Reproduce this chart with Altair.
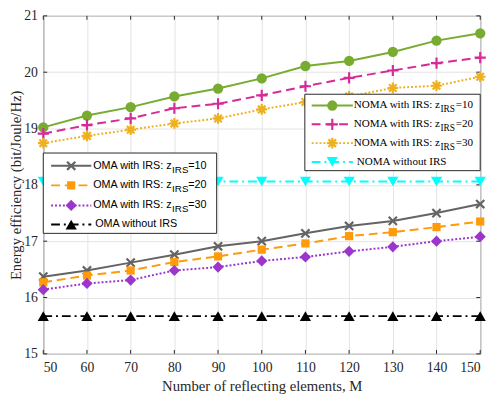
import altair as alt
import pandas as pd

# ---------------- data ----------------
M = [50, 60, 70, 80, 90, 100, 110, 120, 130, 140, 150]
noma_irs10 = [19.02, 19.23, 19.38, 19.57, 19.71, 19.89, 20.11, 20.20, 20.36, 20.56, 20.69]
noma_irs20 = [18.91, 19.06, 19.18, 19.36, 19.44, 19.59, 19.75, 19.90, 20.03, 20.16, 20.26]
noma_irs30 = [18.74, 18.87, 18.98, 19.09, 19.18, 19.34, 19.47, 19.57, 19.72, 19.76, 19.92]
noma_noirs = [18.06, 18.06, 18.06, 18.06, 18.06, 18.06, 18.06, 18.06, 18.06, 18.06, 18.06]
oma_irs10 = [16.37, 16.48, 16.62, 16.76, 16.91, 17.00, 17.14, 17.27, 17.36, 17.50, 17.66]
oma_irs20 = [16.27, 16.39, 16.48, 16.63, 16.73, 16.85, 16.96, 17.09, 17.16, 17.25, 17.35]
oma_irs30 = [16.14, 16.25, 16.31, 16.48, 16.54, 16.65, 16.72, 16.82, 16.90, 17.00, 17.08]
oma_noirs = [15.67, 15.67, 15.67, 15.67, 15.67, 15.67, 15.67, 15.67, 15.67, 15.67, 15.67]

x_ticks = [50, 60, 70, 80, 90, 100, 110, 120, 130, 140, 150]
y_ticks = [15, 16, 17, 18, 19, 20, 21]

# ---------------- styles ----------------
W, H = 446, 345
AX = "#262626"
SERIF = "Liberation Serif"
SANS = "Liberation Sans"

ASTER = "M-1,0L1,0M0,-1L0,1M-0.7,-0.7L0.7,0.7M-0.7,0.7L0.7,-0.7"
PLUS = "M-1,0L1,0M0,-1L0,1"
XMARK = "M-0.8,-0.8L0.8,0.8M-0.8,0.8L0.8,-0.8"

series = [
    dict(key="n10", vals=noma_irs10, color="#77AC30", dash=None, shape="circle", size=110, filled=True),
    dict(key="n20", vals=noma_irs20, color="#D62A99", dash=[9, 5], shape=PLUS, size=130, filled=False),
    dict(key="n30", vals=noma_irs30, color="#EDB120", dash=[2, 2], shape=ASTER, size=120, filled=False),
    dict(key="n0", vals=noma_noirs, color="#00FFFF", dash=[9, 4, 2, 4], shape="triangle-down", size=130, filled=True),
    dict(key="o10", vals=oma_irs10, color="#646464", dash=None, shape=XMARK, size=110, filled=False),
    dict(key="o20", vals=oma_irs20, color="#FF9A0A", dash=[9, 5], shape="square", size=70, filled=True),
    dict(key="o30", vals=oma_irs30, color="#9B35CC", dash=[2, 2], shape="diamond", size=130, filled=True),
    dict(key="o0", vals=oma_noirs, color="#000000", dash=[9, 4, 2, 4], shape="triangle-up", size=130, filled=True),
]

xscale = alt.Scale(domain=[50, 150], nice=False, zero=False)
yscale = alt.Scale(domain=[15, 21], nice=False, zero=False)
xaxis = alt.Axis(values=x_ticks, title="Number of reflecting elements, M", labelPadding=7, titlePadding=4)
yaxis = alt.Axis(values=y_ticks, title="Energy efficiency (bit/Joule/Hz)", labelPadding=6, titlePadding=0)


def X(field):
    return alt.X(field, type="quantitative", scale=xscale, axis=xaxis)


def Y(field):
    return alt.Y(field, type="quantitative", scale=yscale, axis=yaxis)


def mark_kwargs(s):
    kw = dict(color=s["color"], shape=s["shape"], size=s["size"], opacity=1)
    if s["filled"]:
        kw["filled"] = True
        kw["strokeWidth"] = 0
    else:
        kw["filled"] = False
        kw["strokeWidth"] = 2.2
    return kw


def line_kwargs(s):
    kw = dict(color=s["color"], strokeWidth=2)
    if s["dash"]:
        kw["strokeDash"] = s["dash"]
    return kw


layers = []

# inward ticks (MATLAB style box)
xt = pd.DataFrame({"t": x_ticks})
yt = pd.DataFrame({"t": y_ticks})
layers.append(alt.Chart(xt).mark_rule(color=AX, strokeWidth=1).encode(x=X("t"), y=alt.value(H), y2=alt.value(H - 4)))
layers.append(alt.Chart(xt).mark_rule(color=AX, strokeWidth=1).encode(x=X("t"), y=alt.value(0), y2=alt.value(4)))
layers.append(alt.Chart(yt).mark_rule(color=AX, strokeWidth=1).encode(y=Y("t"), x=alt.value(0), x2=alt.value(4)))
layers.append(alt.Chart(yt).mark_rule(color=AX, strokeWidth=1).encode(y=Y("t"), x=alt.value(W), x2=alt.value(W - 4)))

# series
for s in series:
    df = pd.DataFrame({"M": M, "EE": s["vals"]})
    layers.append(alt.Chart(df).mark_line(**line_kwargs(s)).encode(x=X("M"), y=Y("EE")))
    layers.append(alt.Chart(df).mark_point(**mark_kwargs(s)).encode(x=X("M"), y=Y("EE")))


# ---------------- custom legends ----------------
def one():
    return alt.Data(values=[{"k": 0}])


def txt(text, x, y, align, font, size):
    return alt.Chart(one()).mark_text(text=text, align=align, baseline="middle", font=font,
                                      fontSize=size, color="#000000").encode(x=alt.value(x), y=alt.value(y))


def add_legend(box, rows, line_x, text_x, z_end, tail_x, font, fsize, subsize):
    x1, x2, y1, y2 = box
    layers.append(alt.Chart(one()).mark_rect(fill="white", stroke=AX, strokeWidth=1).encode(
        x=alt.value(x1), x2=alt.value(x2), y=alt.value(y1), y2=alt.value(y2)))
    for s, y, main, sub, tail in rows:
        layers.append(alt.Chart(one()).mark_rule(**line_kwargs(s)).encode(
            x=alt.value(line_x[0]), x2=alt.value(line_x[1]), y=alt.value(y)))
        layers.append(alt.Chart(one()).mark_point(**mark_kwargs(s)).encode(
            x=alt.value((line_x[0] + line_x[1]) / 2), y=alt.value(y)))
        if sub:
            layers.append(txt(main, z_end, y, "right", font, fsize))
            layers.append(txt(sub, z_end + 0.5, y + 4, "left", font, subsize))
            layers.append(txt(tail, tail_x, y, "left", font, fsize))
        else:
            layers.append(txt(main, text_x, y, "left", font, fsize))


noma_rows = [
    (series[0], 91.5, "NOMA with IRS: z", "IRS", "=10"),
    (series[1], 110.7, "NOMA with IRS: z", "IRS", "=20"),
    (series[2], 129.9, "NOMA with IRS: z", "IRS", "=30"),
    (series[3], 149.1, "NOMA without IRS", None, None),
]
oma_rows = [
    (series[4], 153, "OMA with IRS: z", "IRS", "=10"),
    (series[5], 173, "OMA with IRS: z", "IRS", "=20"),
    (series[6], 193.5, "OMA with IRS: z", "IRS", "=30"),
    (series[7], 213, "OMA without IRS", None, None),
]

add_legend((267, W, 80, 158), noma_rows, (274, 316), 320, 405, 421, SERIF, 11.3, 9.5)
add_legend((0, 177, 140, 222), oma_rows, (8, 49), 53, 131, 148, SANS, 11, 10)

chart = alt.layer(*layers).properties(
    width=W,
    height=H,
    padding={"left": 36, "top": 4, "right": 10, "bottom": 40},
    autosize=alt.AutoSizeParams(type="none"),
).configure_view(
    stroke=AX, strokeWidth=1
).configure_axis(
    grid=True, gridColor="#e3e3e3", gridWidth=1, domain=False, ticks=False,
    labelFont=SERIF, labelFontSize=14, labelColor=AX,
    titleFont=SERIF, titleFontSize=15, titleFontWeight="normal", titleColor=AX,
)

chart.save("out.html", embed_options={"renderer": "svg", "actions": False})
